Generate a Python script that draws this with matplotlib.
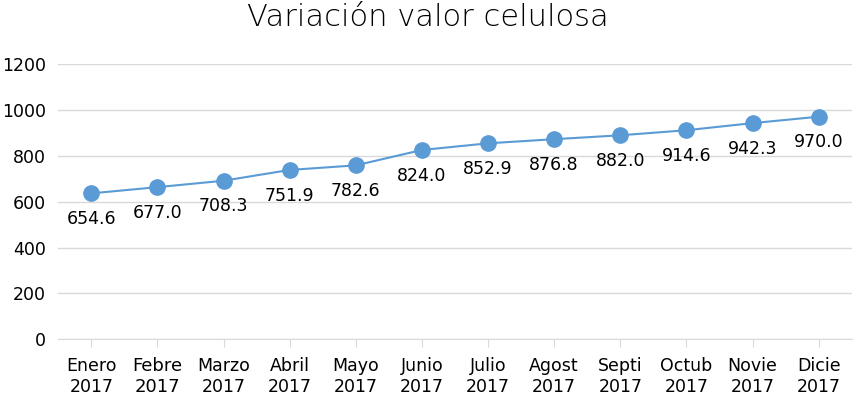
import matplotlib
matplotlib.use('Agg')
import matplotlib.pyplot as plt
import numpy as np

#Data
months = ['Enero', 'Febre', 'Marzo', 'Abril', 'Mayo', 'Junio',
          'Julio', 'Agost', 'Septi', 'Octub', 'Novie', 'Dicie']
year = '2017'
values = [636, 663, 691, 738, 758, 825, 854, 872, 889, 911, 942, 970]
value_labels = ['654.6', '677.0', '708.3', '751.9', '782.6', '824.0',
                '852.9', '876.8', '882.0', '914.6', '942.3', '970.0']
yticks = [0, 200, 400, 600, 800, 1000, 1200]

plt.rcParams['font.family'] = ['DejaVu Sans']

fig = plt.figure(figsize=(8.56, 3.97), dpi=100)
ax = fig.add_axes([0.068, 0.1453, 0.927, 0.6937])

x = np.arange(len(months))
ax.plot(x, values, color='#5B9BD5', linewidth=1.5, marker='o',
        markersize=11, zorder=3)

#Data labels under the points
for xi, v, lab in zip(x, values, value_labels):
    ax.annotate(lab, (xi, v), xytext=(0, -18.5), textcoords='offset points',
                ha='center', va='center', fontsize=12.5, color='black')

#Axes styling
ax.set_xlim(-0.5, 11.5)
ax.set_ylim(0, 1200)
ax.set_yticks(yticks)
ax.set_xticks(x)
ax.set_xticklabels([f'{m}\n{year}' for m in months], fontsize=12.5,
                   linespacing=1.2)
ax.get_xticklabels()[1].set_fontsize(13)
ax.grid(axis='y', color='#D9D9D9', linewidth=1)
ax.set_axisbelow(True)
for s in ['top', 'right', 'left']:
    ax.spines[s].set_visible(False)
ax.spines['bottom'].set_color('#D9D9D9')
ax.tick_params(axis='y', length=0, labelsize=12.5, pad=9)
ax.tick_params(axis='x', length=6, color='#D9D9D9', pad=7)

fig.suptitle('Variación valor celulosa', fontsize=22, y=0.993, va='top',
             fontweight='light')

plt.savefig('out.png', dpi=100)
